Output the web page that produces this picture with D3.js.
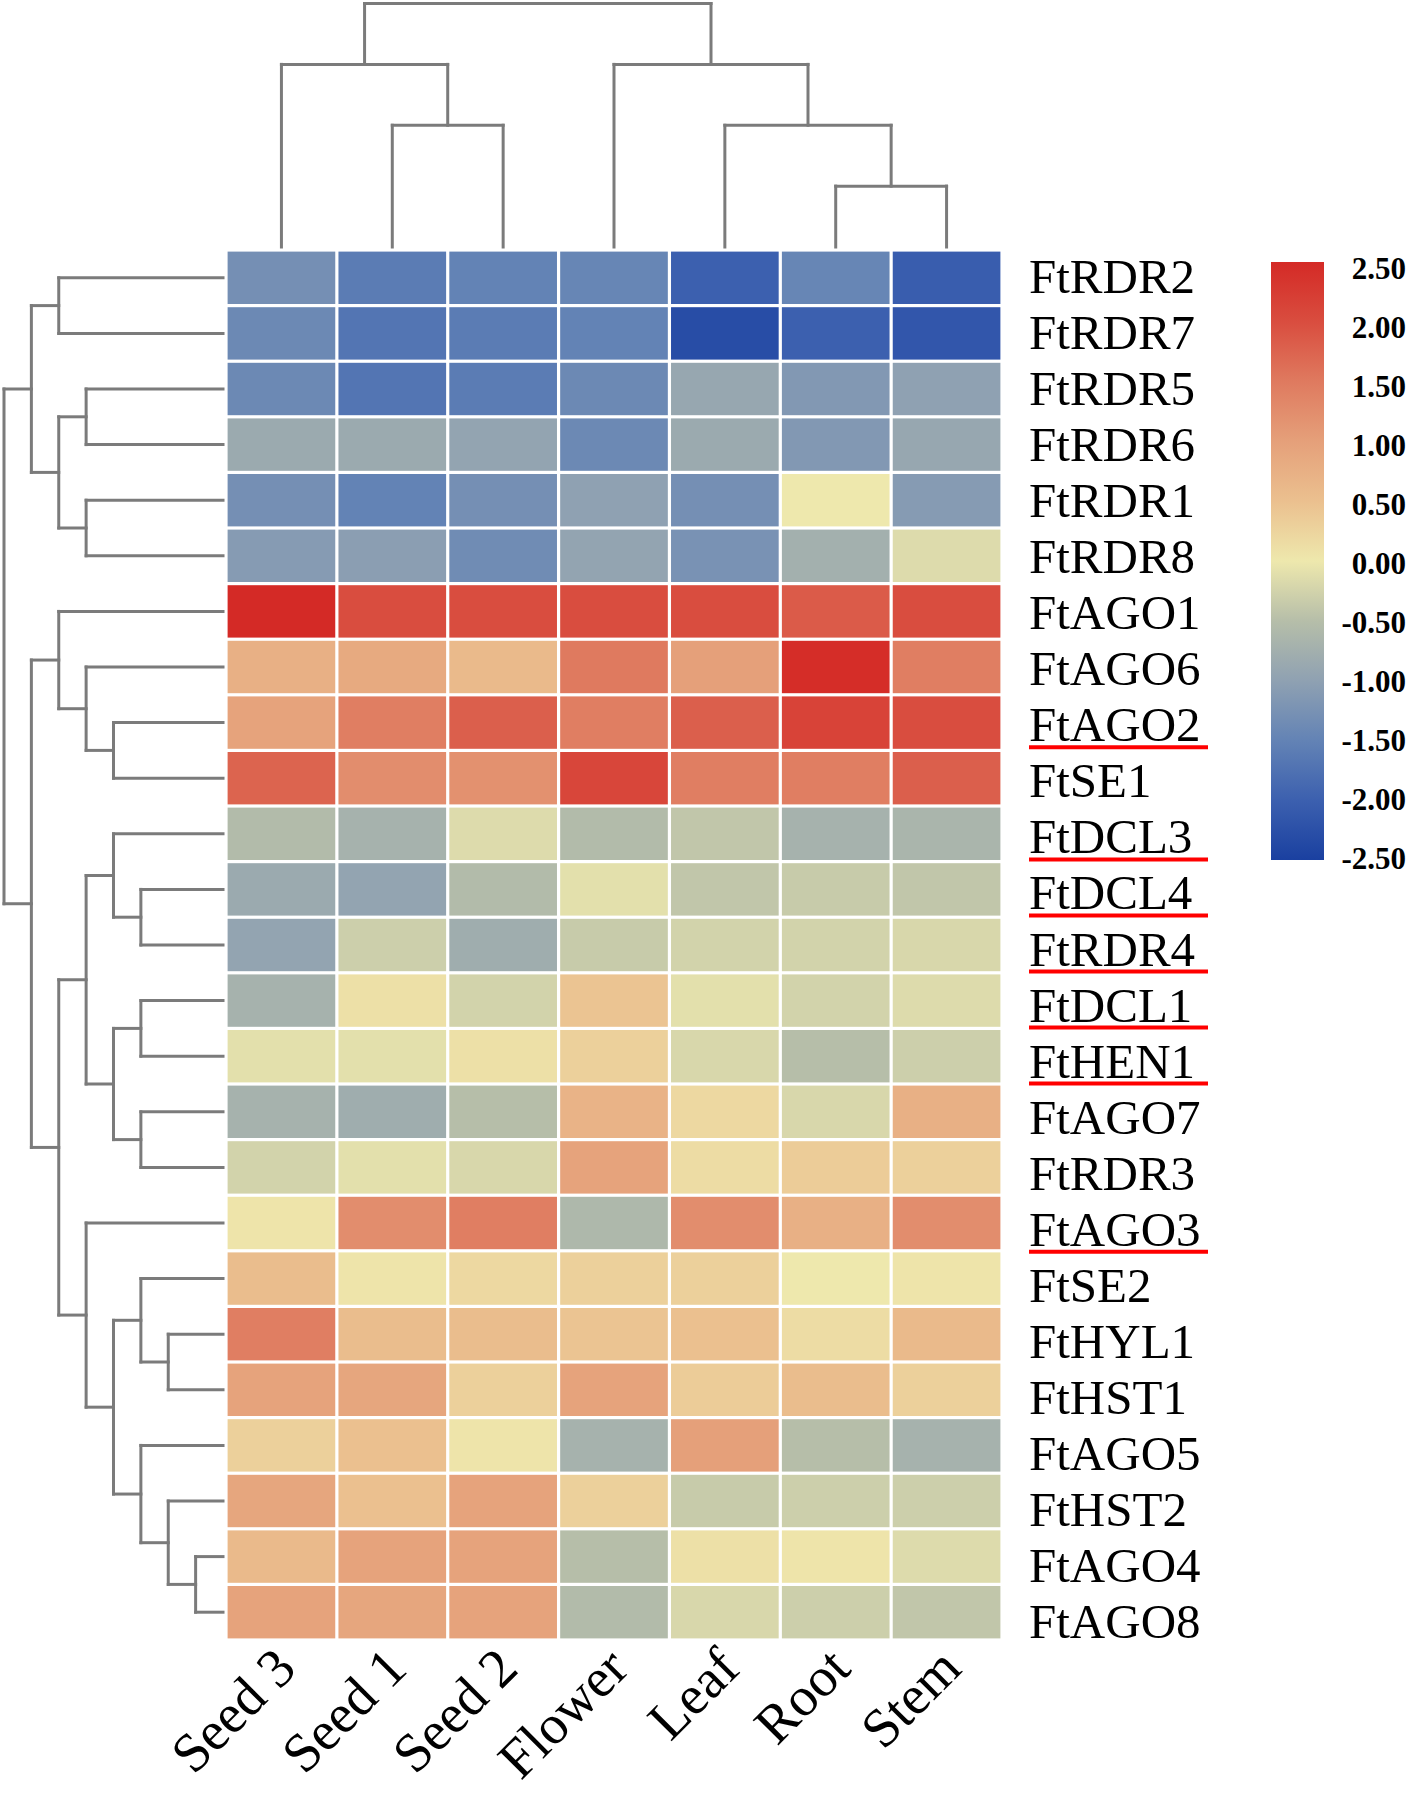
<!DOCTYPE html>
<html>
<head>
<meta charset="utf-8">
<script src="https://cdn.jsdelivr.net/npm/d3@7"></script>
<style>
  html, body { margin: 0; padding: 0; background: #ffffff; }
  svg { display: block; }
</style>
</head>
<body>
<svg id="chart" width="1409" height="1796"></svg>
<script>
// ---------------- DATA ----------------
const tissues = ["Seed 3", "Seed 1", "Seed 2", "Flower", "Leaf", "Root", "Stem"];

const genes = ["FtRDR2", "FtRDR7", "FtRDR5", "FtRDR6", "FtRDR1", "FtRDR8",
  "FtAGO1", "FtAGO6", "FtAGO2", "FtSE1", "FtDCL3", "FtDCL4", "FtRDR4",
  "FtDCL1", "FtHEN1", "FtAGO7", "FtRDR3", "FtAGO3", "FtSE2", "FtHYL1",
  "FtHST1", "FtAGO5", "FtHST2", "FtAGO4", "FtAGO8"];

const underlined = ["FtAGO2", "FtDCL3", "FtDCL4", "FtRDR4", "FtDCL1", "FtHEN1", "FtAGO3"];

// expression values (rows = genes, columns = tissues)
const values = [
  [-1.30, -1.60, -1.50, -1.45, -2.00, -1.45, -2.05], // FtRDR2
  [-1.40, -1.70, -1.60, -1.50, -2.30, -2.00, -2.15], // FtRDR7
  [-1.40, -1.70, -1.60, -1.40, -0.90, -1.15, -1.00], // FtRDR5
  [-0.85, -0.85, -0.95, -1.40, -0.85, -1.15, -0.90], // FtRDR6
  [-1.30, -1.50, -1.30, -1.00, -1.30,  0.00, -1.10], // FtRDR1
  [-1.10, -1.05, -1.35, -0.95, -1.25, -0.75, -0.15], // FtRDR8
  [ 2.50,  2.00,  2.00,  2.00,  2.00,  1.85,  2.00], // FtAGO1
  [ 0.75,  0.85,  0.60,  1.50,  1.00,  2.45,  1.45], // FtAGO6
  [ 0.95,  1.45,  1.80,  1.45,  1.80,  2.15,  2.00], // FtAGO2
  [ 1.75,  1.25,  1.20,  2.10,  1.45,  1.45,  1.80], // FtSE1
  [-0.55, -0.70, -0.15, -0.55, -0.40, -0.70, -0.65], // FtDCL3
  [-0.85, -0.95, -0.55, -0.10, -0.40, -0.35, -0.40], // FtDCL4
  [-0.95, -0.30, -0.80, -0.35, -0.25, -0.25, -0.20], // FtRDR4
  [-0.70,  0.10, -0.25,  0.45, -0.10, -0.25, -0.15], // FtDCL1
  [-0.10, -0.10,  0.10,  0.30, -0.20, -0.50, -0.30], // FtHEN1
  [-0.70, -0.80, -0.50,  0.70,  0.20, -0.20,  0.75], // FtAGO7
  [-0.25, -0.10, -0.20,  0.95,  0.15,  0.35,  0.30], // FtRDR3
  [ 0.05,  1.25,  1.45, -0.60,  1.25,  0.75,  1.25], // FtAGO3
  [ 0.55,  0.05,  0.20,  0.30,  0.30,  0.00,  0.05], // FtSE2
  [ 1.45,  0.55,  0.55,  0.45,  0.50,  0.15,  0.60], // FtHYL1
  [ 0.95,  0.90,  0.30,  0.95,  0.35,  0.55,  0.30], // FtHST1
  [ 0.30,  0.50,  0.05, -0.70,  1.00, -0.50, -0.70], // FtAGO5
  [ 0.90,  0.50,  0.95,  0.30, -0.35, -0.30, -0.30], // FtHST2
  [ 0.60,  0.95,  0.95, -0.50,  0.10,  0.05, -0.15], // FtAGO4
  [ 0.95,  0.90,  0.95, -0.55, -0.20, -0.30, -0.40]  // FtAGO8
];

// legend ticks and colour stops
const legendTicks = [2.5, 2.0, 1.5, 1.0, 0.5, 0.0, -0.5, -1.0, -1.5, -2.0, -2.5];
const colorStops = [-2.5, -2.0, -1.5, -1.0, -0.5, 0.0, 0.5, 1.0, 1.5, 2.0, 2.5];
const colorRange = ["#1a40a0", "#3c60af", "#6383b5", "#8fa1b2", "#b6bea9", "#eee8ad",
                    "#ebc08f", "#e5a07a", "#df7a5f", "#d94d3f", "#d42a26"];

// dendrograms: {h: merge height, c: children}; leaves are names
const colTree = {h: 4, c: [
  {h: 3, c: ["Seed 3", {h: 2, c: ["Seed 1", "Seed 2"]}]},
  {h: 3, c: ["Flower", {h: 2, c: ["Leaf", {h: 1, c: ["Root", "Stem"]}]}]}
]};

const rowTree = {h: 8, c: [
  {h: 7, c: [
    {h: 6, c: ["FtRDR2", "FtRDR7"]},
    {h: 6, c: [
      {h: 5, c: ["FtRDR5", "FtRDR6"]},
      {h: 5, c: ["FtRDR1", "FtRDR8"]}
    ]}
  ]},
  {h: 7, c: [
    {h: 6, c: ["FtAGO1", {h: 5, c: ["FtAGO6", {h: 4, c: ["FtAGO2", "FtSE1"]}]}]},
    {h: 6, c: [
      {h: 5, c: [
        {h: 4, c: ["FtDCL3", {h: 3, c: ["FtDCL4", "FtRDR4"]}]},
        {h: 4, c: [{h: 3, c: ["FtDCL1", "FtHEN1"]}, {h: 3, c: ["FtAGO7", "FtRDR3"]}]}
      ]},
      {h: 5, c: [
        "FtAGO3",
        {h: 4, c: [
          {h: 3, c: ["FtSE2", {h: 2, c: ["FtHYL1", "FtHST1"]}]},
          {h: 3, c: ["FtAGO5", {h: 2, c: ["FtHST2", {h: 1, c: ["FtAGO4", "FtAGO8"]}]}]}
        ]}
      ]}
    ]}
  ]}
]};

// ---------------- LAYOUT ----------------
const svg = d3.select("#chart");
const hm = {left: 226, right: 1002, top: 250, bottom: 1640};

const x = d3.scaleBand().domain(tissues).range([hm.left, hm.right]);
const y = d3.scaleBand().domain(genes).range([hm.top, hm.bottom]);
const labelY = d3.scalePoint().domain(genes).range([293, 1638]);
const color = d3.scaleLinear().domain(colorStops).range(colorRange).interpolate(d3.interpolateRgb).clamp(true);

const serif = "'Liberation Serif', 'Times New Roman', serif";
const treeColor = "#7b7b7b";
const treeWidth = 3;

// ---------------- HEATMAP ----------------
const gap = 3.2;
const cells = [];
genes.forEach((g, i) => tissues.forEach((t, j) => cells.push({g, t, v: values[i][j]})));
svg.append("g").selectAll("rect").data(cells).join("rect")
  .attr("x", d => x(d.t) + gap / 2)
  .attr("y", d => y(d.g) + gap / 2)
  .attr("width", x.bandwidth() - gap)
  .attr("height", y.bandwidth() - gap)
  .attr("fill", d => color(d.v));

// ---------------- DENDROGRAMS ----------------
function toHier(node) {
  return d3.hierarchy(node, d => (typeof d === "string" ? null : d.c));
}

// top (column) dendrogram
const colH = d3.scaleLinear().domain([0, 4]).range([247, 3.5]);
const colRoot = toHier(colTree);
colRoot.eachAfter(n => {
  if (!n.children) { n.px = x(n.data) + x.bandwidth() / 2; n.py = colH(0); }
  else { n.px = (n.children[0].px + n.children[n.children.length - 1].px) / 2; n.py = colH(n.data.h); }
});
const colSegs = [];
colRoot.each(n => {
  if (n.children) {
    colSegs.push([[n.children[0].px, n.py], [n.children[n.children.length - 1].px, n.py]]);
    n.children.forEach(c => colSegs.push([[c.px, n.py], [c.px, c.py]]));
  }
});
svg.append("g").selectAll("line").data(colSegs).join("line")
  .attr("x1", d => d[0][0]).attr("y1", d => d[0][1])
  .attr("x2", d => d[1][0]).attr("y2", d => d[1][1])
  .attr("stroke", treeColor).attr("stroke-width", treeWidth).attr("stroke-linecap", "square");

// left (row) dendrogram
const rowH = d3.scaleLinear().domain([0, 8]).range([223, 4]);
const rowRoot = toHier(rowTree);
rowRoot.eachAfter(n => {
  if (!n.children) { n.py = y(n.data) + y.bandwidth() / 2; n.px = rowH(0); }
  else { n.py = (n.children[0].py + n.children[n.children.length - 1].py) / 2; n.px = rowH(n.data.h); }
});
const rowSegs = [];
rowRoot.each(n => {
  if (n.children) {
    rowSegs.push([[n.px, n.children[0].py], [n.px, n.children[n.children.length - 1].py]]);
    n.children.forEach(c => rowSegs.push([[n.px, c.py], [c.px, c.py]]));
  }
});
svg.append("g").selectAll("line").data(rowSegs).join("line")
  .attr("x1", d => d[0][0]).attr("y1", d => d[0][1])
  .attr("x2", d => d[1][0]).attr("y2", d => d[1][1])
  .attr("stroke", treeColor).attr("stroke-width", treeWidth).attr("stroke-linecap", "square");

// ---------------- ROW LABELS ----------------
const labelX = 1029;
const rowLabels = svg.append("g");
rowLabels.selectAll("text").data(genes).join("text")
  .attr("x", labelX)
  .attr("y", d => labelY(d))
  .attr("font-family", serif)
  .attr("font-size", 49)
  .attr("fill", "#000")
  .text(d => d);
rowLabels.selectAll("line").data(underlined).join("line")
  .attr("x1", labelX).attr("x2", 1208)
  .attr("y1", d => labelY(d) + 6)
  .attr("y2", d => labelY(d) + 6)
  .attr("stroke", "#ff0000").attr("stroke-width", 4);

// ---------------- COLUMN LABELS ----------------
svg.append("g").selectAll("text").data(tissues).join("text")
  .attr("transform", d => `translate(${x(d) + x.bandwidth() / 2 + 17},${hm.bottom + 31}) rotate(-45)`)
  .attr("text-anchor", "end")
  .attr("font-family", serif)
  .attr("font-size", 55)
  .attr("fill", "#000")
  .text(d => d);

// ---------------- LEGEND ----------------
const leg = {x: 1271, w: 53, top: 262, bottom: 860};
const defs = svg.append("defs");
const grad = defs.append("linearGradient").attr("id", "legGrad")
  .attr("x1", 0).attr("y1", 1).attr("x2", 0).attr("y2", 0);
const legScale = d3.scaleLinear().domain([-2.5, 2.5]).range([0, 1]);
grad.selectAll("stop").data(colorStops).join("stop")
  .attr("offset", d => legScale(d))
  .attr("stop-color", d => color(d));
svg.append("rect")
  .attr("x", leg.x).attr("y", leg.top)
  .attr("width", leg.w).attr("height", leg.bottom - leg.top)
  .attr("fill", "url(#legGrad)");

const tickY = d3.scaleLinear().domain([2.5, -2.5]).range([268, 858]);
svg.append("g").selectAll("text").data(legendTicks).join("text")
  .attr("x", 1406)
  .attr("y", d => tickY(d))
  .attr("dy", "0.35em")
  .attr("text-anchor", "end")
  .attr("font-family", serif)
  .attr("font-weight", "bold")
  .attr("font-size", 31)
  .attr("fill", "#000")
  .text(d => d3.format(".2f")(d).replace("−", "-"));
</script>
</body>
</html>
